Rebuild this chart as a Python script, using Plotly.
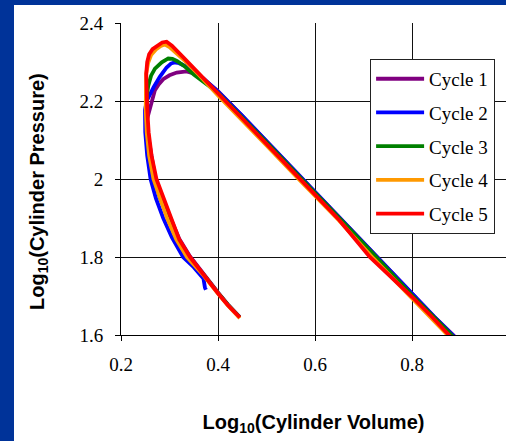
import plotly.graph_objects as go

# log10(V) / log10(p) traces for five engine cycles
cycle1_x = [0.445, 0.42, 0.40, 0.37, 0.342, 0.32, 0.301, 0.285, 0.271, 0.262, 0.256, 0.253,
            0.256, 0.259, 0.263, 0.270, 0.278, 0.287, 0.300, 0.315, 0.335, 0.350, 0.365,
            0.40, 0.45, 0.50, 0.57, 0.60, 0.65, 0.72, 0.80, 0.845, 0.885, 0.92]
cycle1_y = [1.646, 1.679, 1.709, 1.756, 1.802, 1.847, 1.90, 1.95, 2.0, 2.06, 2.11, 2.15,
            2.165, 2.18, 2.20, 2.228, 2.243, 2.256, 2.266, 2.273, 2.276, 2.271, 2.262,
            2.225, 2.162, 2.097, 2.006, 1.968, 1.903, 1.81, 1.705, 1.648, 1.60, 1.555]

cycle2_x = [0.375, 0.373, 0.370, 0.35, 0.328, 0.305, 0.287, 0.272, 0.261, 0.254, 0.250,
            0.2495, 0.253, 0.259, 0.267, 0.280, 0.294, 0.303, 0.310, 0.320, 0.335, 0.37,
            0.40, 0.45, 0.50, 0.57, 0.60, 0.65, 0.72, 0.80, 0.845, 0.884, 0.92]
cycle2_y = [1.716, 1.722, 1.745, 1.774, 1.80, 1.85, 1.90, 1.95, 2.0, 2.06, 2.12,
            2.177, 2.20, 2.215, 2.235, 2.262, 2.286, 2.296, 2.299, 2.297, 2.288, 2.258,
            2.224, 2.162, 2.097, 2.006, 1.968, 1.903, 1.81, 1.705, 1.648, 1.60, 1.553]

cycle3_x = [0.445, 0.42, 0.40, 0.37, 0.338, 0.316, 0.297, 0.281, 0.268, 0.259, 0.254, 0.252,
            0.253, 0.256, 0.262, 0.270, 0.284, 0.2975, 0.306, 0.316, 0.330, 0.350, 0.40,
            0.45, 0.50, 0.57, 0.60, 0.65, 0.72, 0.80, 0.845, 0.882, 0.92]
cycle3_y = [1.645, 1.678, 1.708, 1.755, 1.80, 1.846, 1.90, 1.95, 2.0, 2.06, 2.12, 2.18,
            2.21, 2.238, 2.265, 2.283, 2.299, 2.309, 2.308, 2.302, 2.29, 2.268, 2.221,
            2.159, 2.094, 2.003, 1.965, 1.90, 1.808, 1.702, 1.646, 1.60, 1.551]

cycle4_x = [0.445, 0.42, 0.40, 0.37, 0.336, 0.314, 0.295, 0.280, 0.267, 0.258, 0.253, 0.251,
            0.251, 0.252, 0.256, 0.262, 0.272, 0.282, 0.290, 0.300, 0.33, 0.36, 0.40,
            0.45, 0.50, 0.57, 0.60, 0.65, 0.72, 0.80, 0.84, 0.874, 0.91]
cycle4_y = [1.643, 1.676, 1.706, 1.753, 1.80, 1.845, 1.90, 1.95, 2.0, 2.06, 2.12, 2.18,
            2.23, 2.27, 2.298, 2.318, 2.332, 2.341, 2.345, 2.338, 2.305, 2.268, 2.214,
            2.151, 2.086, 1.995, 1.958, 1.893, 1.797, 1.693, 1.643, 1.60, 1.553]

cycle5_x = [0.445, 0.42, 0.40, 0.37, 0.342, 0.32, 0.303, 0.287, 0.273, 0.263, 0.257, 0.254,
            0.252, 0.252, 0.254, 0.258, 0.265, 0.275, 0.285, 0.294, 0.305, 0.33, 0.36,
            0.40, 0.45, 0.50, 0.569, 0.60, 0.65, 0.713, 0.76, 0.80, 0.84, 0.875, 0.91]
cycle5_y = [1.645, 1.677, 1.707, 1.754, 1.80, 1.845, 1.90, 1.95, 2.0, 2.06, 2.12, 2.18,
            2.23, 2.27, 2.30, 2.32, 2.333, 2.342, 2.35, 2.352, 2.342, 2.31, 2.272,
            2.218, 2.155, 2.09, 2.0, 1.963, 1.895, 1.80, 1.745, 1.698, 1.648, 1.60, 1.555]

cycle_names = ["Cycle 1", "Cycle 2", "Cycle 3", "Cycle 4", "Cycle 5"]
cycle_colors = ["#800080", "#0000FF", "#008000", "#FF9900", "#FF0000"]
xs = [cycle1_x, cycle2_x, cycle3_x, cycle4_x, cycle5_x]
ys = [cycle1_y, cycle2_y, cycle3_y, cycle4_y, cycle5_y]

fig = go.Figure()
for i, (name, color, x, y) in enumerate(zip(cycle_names, cycle_colors, xs, ys)):
    fig.add_trace(go.Scatter(
        x=x, y=y, mode="lines", name=name, legendgroup=f"g{i}",
        line=dict(color=color, width=3.8),
    ))

serif = "Liberation Serif"
sans = "Liberation Sans"
frame = "#003399"

fig.update_layout(
    width=506, height=441,
    margin=dict(l=121, r=0, t=23, b=106),
    paper_bgcolor=frame, plot_bgcolor="white",
    showlegend=True,
    legend=dict(
        x=0.647, y=0.885, xanchor="left", yanchor="top",
        bgcolor="white", bordercolor="#222222", borderwidth=1,
        font=dict(family=serif, size=19, color="black"),
        tracegroupgap=6, itemwidth=48,
    ),
    # white slide panel inside the dark blue frame
    shapes=[
        dict(type="rect", xref="paper", yref="paper",
             x0=-107 / 385, x1=1.0,
             y0=-106 / 312, y1=1 + 18 / 312,
             fillcolor="white", line_width=0, layer="below"),
    ],
    annotations=[
        dict(text="<b>Log<sub>10</sub>(Cylinder Pressure)</b>", textangle=-90,
             xref="paper", yref="paper", x=-83 / 385, y=(335 - 192) / 312,
             xanchor="center", yanchor="middle", showarrow=False,
             font=dict(family=sans, size=20, color="black")),
    ],
)

fig.update_xaxes(
    range=[0.2, 0.2 + 385 / 485], tickvals=[0.2, 0.4, 0.6, 0.8, 1.0],
    ticktext=["0.2", "0.4", "0.6", "0.8", "1"],
    showgrid=True, gridcolor="#111111", gridwidth=1,
    showline=True, linecolor="black", linewidth=1,
    ticks="outside", ticklen=5, tickcolor="black",
    tickfont=dict(family=serif, size=19, color="black"),
    ticklabelstandoff=7, zeroline=False,
    title=dict(text="Log<sub>10</sub>(Cylinder Volume)", standoff=41,
               font=dict(family=sans, size=20, color="black", weight="bold")),
)
fig.update_yaxes(
    range=[1.6, 2.4], tickvals=[1.6, 1.8, 2.0, 2.2, 2.4],
    ticktext=["1.6", "1.8", "2", "2.2", "2.4"],
    showgrid=True, gridcolor="#111111", gridwidth=1,
    showline=True, linecolor="black", linewidth=1,
    ticks="outside", ticklen=5, tickcolor="black",
    tickfont=dict(family=serif, size=19, color="black"),
    ticklabelstandoff=8, zeroline=False,
)

fig.write_html("out.html", config={"displayModeBar": False})
